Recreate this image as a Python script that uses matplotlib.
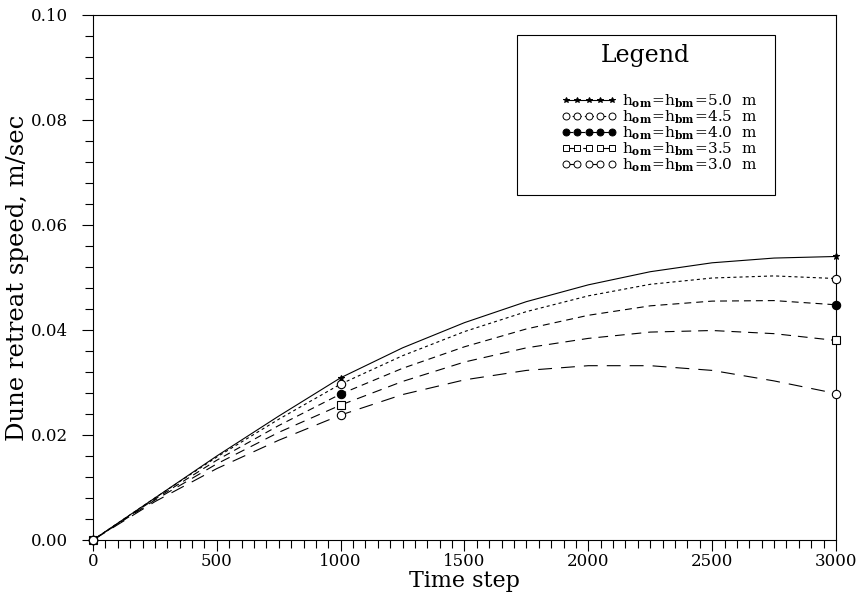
import matplotlib
matplotlib.use('Agg')
import matplotlib.pyplot as plt
from matplotlib.lines import Line2D
from matplotlib.patches import Rectangle
from matplotlib.ticker import MultipleLocator, FormatStrFormatter

plt.rcParams['font.family'] = 'DejaVu Serif'
plt.rcParams['mathtext.fontset'] = 'dejavuserif'
plt.rcParams['lines.scale_dashes'] = False

# time steps where the retreat speed was read
pasos = [0, 250, 500, 750, 1000, 1250, 1500, 1750, 2000, 2250, 2500, 2750, 3000]

# dune retreat speed (m/sec) for each berm/dune height
v_50 = [0.0, 0.0080, 0.0160, 0.0236, 0.0309, 0.0366, 0.0414, 0.0454, 0.0486, 0.0511, 0.0528, 0.0537, 0.0540]
v_45 = [0.0, 0.0080, 0.0158, 0.0230, 0.0297, 0.0351, 0.0397, 0.0435, 0.0465, 0.0487, 0.0499, 0.0503, 0.0498]
v_40 = [0.0, 0.0078, 0.0152, 0.0218, 0.0278, 0.0327, 0.0368, 0.0402, 0.0428, 0.0446, 0.0455, 0.0456, 0.0448]
v_35 = [0.0, 0.0076, 0.0145, 0.0205, 0.0257, 0.0302, 0.0339, 0.0366, 0.0384, 0.0396, 0.0399, 0.0393, 0.0380]
v_30 = [0.0, 0.0073, 0.0136, 0.0190, 0.0238, 0.0277, 0.0305, 0.0323, 0.0332, 0.0332, 0.0323, 0.0303, 0.0279]

alturas = ['5.0', '4.5', '4.0', '3.5', '3.0']
series = [v_50, v_45, v_40, v_35, v_30]
marcas = ['*', 'o', 'o', 's', 'o']
rellenos = ['black', 'white', 'black', 'white', 'white']
tamanos = [5, 6, 6, 6, 6]
trazos = [(0, ()), (0, (2.2, 2.2)), (0, (5, 3.6)), (0, (7, 5)), (0, (10, 6.5))]
con_marca = [0, 4, 12]  # markers at 0, 1000 and 3000

fig = plt.figure(figsize=(8.57, 5.97), dpi=100)
ax = fig.add_axes([0.1085, 0.0955, 0.867, 0.8794])

handles = []
for i in range(5):
    ax.plot(pasos, series[i], color='black', lw=0.8, linestyle=trazos[i],
            marker=marcas[i], markevery=con_marca, markersize=tamanos[i],
            markerfacecolor=rellenos[i], markeredgecolor='black', markeredgewidth=0.8,
            clip_on=False, zorder=3)
    handles.append(Line2D([], [], color='black', lw=0.8, linestyle=trazos[i],
                          marker=marcas[i], markersize=tamanos[i] - 1,
                          markerfacecolor=rellenos[i], markeredgecolor='black',
                          markeredgewidth=0.7))

etiquetas = [r'$\mathrm{h_{\mathbf{om}}\!=\!h_{\mathbf{bm}}\!=\!%s}$  m' % a for a in alturas]

ax.set_xlim(0, 3000)
ax.set_ylim(0, 0.10)
ax.xaxis.set_major_locator(MultipleLocator(500))
ax.xaxis.set_minor_locator(MultipleLocator(50))
ax.yaxis.set_major_locator(MultipleLocator(0.02))
ax.yaxis.set_minor_locator(MultipleLocator(0.004))
ax.yaxis.set_major_formatter(FormatStrFormatter('%.2f'))
ax.tick_params(which='both', direction='out', top=False, right=False,
               labelsize=12, width=0.8)
ax.tick_params(which='major', length=8)
ax.tick_params(which='minor', length=6)
ax.tick_params(axis='y', which='major', pad=10)
ax.tick_params(axis='x', which='major', pad=1.5)
for s in ax.spines.values():
    s.set_linewidth(0.8)

ax.set_xlabel('Time step', fontsize=16, labelpad=0)
ax.set_ylabel('Dune retreat speed, m/sec', fontsize=17.5, labelpad=1)

# legend box
ax.add_patch(Rectangle((0.571, 0.657), 0.347, 0.305, transform=ax.transAxes,
                       fill=False, edgecolor='black', lw=0.8, zorder=4))
ax.text(0.744, 0.922, 'Legend', transform=ax.transAxes, ha='center', va='center',
        fontsize=17)
ax.legend(handles, etiquetas, loc='upper left', bbox_to_anchor=(0.63, 0.852),
          frameon=False, numpoints=5, handlelength=3.6, handletextpad=0.4,
          labelspacing=-0.1, borderpad=0, borderaxespad=0, fontsize=11)

plt.savefig('out.png', dpi=100)
